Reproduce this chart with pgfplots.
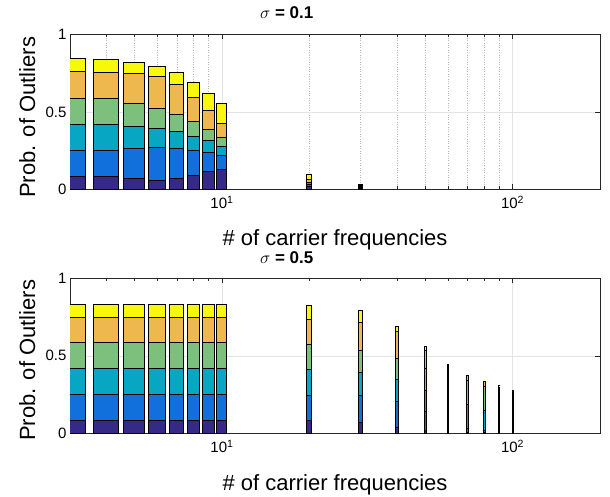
\documentclass[border=0pt]{standalone}
\usepackage{fontspec}
\setmainfont{Liberation Sans}
\usepackage{pgfplots}
\pgfplotsset{compat=1.18}
\definecolor{cNavy}{RGB}{53,42,135}
\definecolor{cBlue}{RGB}{17,112,220}
\definecolor{cTeal}{RGB}{7,166,195}
\definecolor{cGreen}{RGB}{125,191,124}
\definecolor{cOrange}{RGB}{239,184,79}
\definecolor{cYellow}{RGB}{248,248,10}
% #1 left edge, #2 right edge, #3..#8 cumulative tops of the six segments
\newcommand{\stackbar}[8]{%
  \addplot[draw=black, line width=1pt, fill=cNavy] coordinates {(#1,0) (#2,0) (#2,#3) (#1,#3)} -- cycle;
  \addplot[draw=black, line width=1pt, fill=cBlue] coordinates {(#1,#3) (#2,#3) (#2,#4) (#1,#4)} -- cycle;
  \addplot[draw=black, line width=1pt, fill=cTeal] coordinates {(#1,#4) (#2,#4) (#2,#5) (#1,#5)} -- cycle;
  \addplot[draw=black, line width=1pt, fill=cGreen] coordinates {(#1,#5) (#2,#5) (#2,#6) (#1,#6)} -- cycle;
  \addplot[draw=black, line width=1pt, fill=cOrange] coordinates {(#1,#6) (#2,#6) (#2,#7) (#1,#7)} -- cycle;
  \addplot[draw=black, line width=1pt, fill=cYellow] coordinates {(#1,#7) (#2,#7) (#2,#8) (#1,#8)} -- cycle;
}
\pgfplotsset{
  tick label style={font=\fontsize{15}{17}\selectfont},
  label style={font=\fontsize{22}{24}\selectfont},
  /pgf/number format/assume math mode=true,
}
\begin{document}
\begin{tikzpicture}
\path[use as bounding box] (0pt,0pt) rectangle (610pt,496pt);
\begin{axis}[at={(70pt,306.5pt)}, anchor=south west,
  scale only axis, width=530pt, height=155pt,
  xmode=log, xmin=3, xmax=200, ymin=0, ymax=1,
  xtick={10,100}, xticklabels={10\textsuperscript{1},10\textsuperscript{2}},
  minor xtick={3,4,5,6,7,8,9,20,30,40,50,60,70,80,90,200},
  ytick={0,0.5,1}, yticklabels={0,0.5,1},
  tick align=inside, xtick pos=both, ytick pos=both,
  major tick length=5pt, minor tick length=3pt,
  xmajorgrids=true, ymajorgrids=true, xminorgrids=true,
  major grid style={gray!22, line width=0.6pt},
  minor grid style={gray!55, dotted, line width=0.6pt},
  axis line style={black!85, line width=0.6pt},
  tick style={black!85, line width=0.6pt},
  xticklabel style={yshift=-3pt},
  xlabel={\# of carrier frequencies},
  ylabel={Prob. of Outliers},
  xlabel style={at={(axis description cs:0.5,-0.36)}, anchor=base},
  ylabel style={at={(axis description cs:-0.066,0.465)}, anchor=base},
  title style={at={(axis description cs:0.409,1.065)}, anchor=base, font=\fontsize{17}{19}\selectfont},
  title={$\sigma$ \textbf{= 0.1}}]
\stackbar{2.6}{3.4}{0.083}{0.249}{0.417}{0.588}{0.759}{0.843}
\stackbar{3.6}{4.4}{0.083}{0.254}{0.417}{0.584}{0.756}{0.838}
\stackbar{4.6}{5.4}{0.070}{0.262}{0.405}{0.553}{0.746}{0.817}
\stackbar{5.6}{6.4}{0.061}{0.269}{0.396}{0.523}{0.728}{0.793}
\stackbar{6.6}{7.4}{0.070}{0.262}{0.372}{0.487}{0.676}{0.752}
\stackbar{7.6}{8.4}{0.092}{0.249}{0.342}{0.437}{0.594}{0.689}
\stackbar{8.6}{9.4}{0.113}{0.236}{0.314}{0.385}{0.510}{0.620}
\stackbar{9.6}{10.4}{0.126}{0.219}{0.277}{0.335}{0.424}{0.553}
\stackbar{19.6}{20.4}{0.020}{0.035}{0.042}{0.048}{0.065}{0.100}
\stackbar{29.6}{30.4}{0.005}{0.010}{0.015}{0.020}{0.025}{0.030}
\end{axis}
\begin{axis}[at={(70pt,62.7pt)}, anchor=south west,
  scale only axis, width=530pt, height=155pt,
  xmode=log, xmin=3, xmax=200, ymin=0, ymax=1,
  xtick={10,100}, xticklabels={10\textsuperscript{1},10\textsuperscript{2}},
  minor xtick={3,4,5,6,7,8,9,20,30,40,50,60,70,80,90,200},
  ytick={0,0.5,1}, yticklabels={0,0.5,1},
  tick align=inside, xtick pos=both, ytick pos=both,
  major tick length=5pt, minor tick length=3pt,
  xmajorgrids=true, ymajorgrids=true,
  major grid style={gray!22, line width=0.6pt},
  axis line style={black!85, line width=0.6pt},
  tick style={black!85, line width=0.6pt},
  xticklabel style={yshift=-3pt},
  xlabel={\# of carrier frequencies},
  ylabel={Prob. of Outliers},
  xlabel style={at={(axis description cs:0.5,-0.37)}, anchor=base},
  ylabel style={at={(axis description cs:-0.066,0.47)}, anchor=base},
  title style={at={(axis description cs:0.409,1.058)}, anchor=base, font=\fontsize{17}{19}\selectfont},
  title={$\sigma$ \textbf{= 0.5}}]
\stackbar{2.6}{3.4}{0.0833}{0.25}{0.4167}{0.5833}{0.75}{0.8333}
\stackbar{3.6}{4.4}{0.0833}{0.25}{0.4167}{0.5833}{0.75}{0.8333}
\stackbar{4.6}{5.4}{0.0833}{0.25}{0.4167}{0.5833}{0.75}{0.8333}
\stackbar{5.6}{6.4}{0.0833}{0.25}{0.4167}{0.5833}{0.75}{0.8333}
\stackbar{6.6}{7.4}{0.0833}{0.25}{0.4167}{0.5833}{0.75}{0.8333}
\stackbar{7.6}{8.4}{0.0833}{0.25}{0.4167}{0.5833}{0.75}{0.8333}
\stackbar{8.6}{9.4}{0.0833}{0.25}{0.4167}{0.5833}{0.75}{0.8333}
\stackbar{9.6}{10.4}{0.0833}{0.25}{0.4167}{0.5833}{0.75}{0.8333}
\stackbar{19.6}{20.4}{0.085}{0.247}{0.410}{0.572}{0.737}{0.827}
\stackbar{29.6}{30.4}{0.068}{0.247}{0.391}{0.532}{0.718}{0.790}
\stackbar{39.6}{40.4}{0.036}{0.207}{0.346}{0.481}{0.654}{0.690}
\stackbar{49.6}{50.4}{0.021}{0.138}{0.273}{0.417}{0.534}{0.560}
\stackbar{59.6}{60.4}{0.010}{0.075}{0.222}{0.374}{0.440}{0.444}
\stackbar{69.6}{70.4}{0.005}{0.032}{0.186}{0.340}{0.374}{0.376}
\stackbar{79.6}{80.4}{0.002}{0.020}{0.150}{0.300}{0.334}{0.335}
\stackbar{89.6}{90.4}{0.001}{0.010}{0.120}{0.280}{0.307}{0.308}
\stackbar{99.6}{100.4}{0.000}{0.005}{0.090}{0.250}{0.272}{0.273}
\end{axis}
\end{tikzpicture}
\end{document}
